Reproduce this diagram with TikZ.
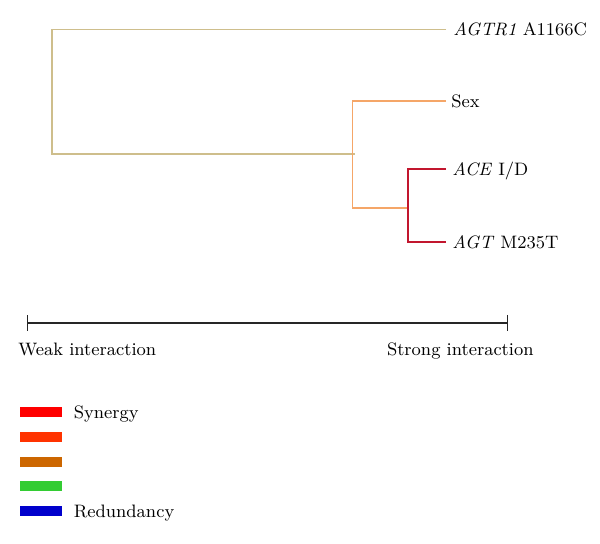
\documentclass[tikz,border=0pt]{standalone}
\usepackage{xcolor}
\usepackage{tikz}
\usetikzlibrary{positioning,arrows.meta}

\definecolor{tanline}{RGB}{206,190,140}
\definecolor{orangeline}{RGB}{245,166,104}
\definecolor{redline}{RGB}{194,22,46}
\definecolor{legsyn}{RGB}{255,0,0}
\definecolor{legorange}{RGB}{255,51,0}
\definecolor{legbrown}{RGB}{204,102,0}
\definecolor{leggreen}{RGB}{51,204,51}
\definecolor{legred}{RGB}{0,0,204}

\tikzset{
  branch/.style={line width=0.9pt},
  leaflabel/.style={anchor=west, inner sep=0pt, text height=6.2pt, text depth=0pt,
    font=\fontsize{9}{11}\selectfont},
  legendbar/.style={rectangle, minimum width=21pt, minimum height=5pt, inner sep=0pt}
}

\begin{document}
\begin{tikzpicture}[x=0.5pt,y=-0.5pt]
  \useasboundingbox (0,0) rectangle (600,544);

  % leaves and joins of the tree
  \coordinate (agtr1) at (446,29.5);
  \coordinate (sex) at (446,101);
  \coordinate (ace) at (446,169);
  \coordinate (agt) at (446,242);
  \coordinate (c3) at (408,208);
  \coordinate (c2) at (352.5,154);
  \coordinate (c1) at (52,154);

  \draw[branch, tanline] (agtr1) -| (c1) -- ([xshift=1.2pt]c2);
  \draw[branch, orangeline] (sex) -| (c2) |- (c3);
  \draw[branch, redline] (ace) -| (c3) |- (agt);

  \node[leaflabel, right=3.5pt of agtr1] (agtr1lbl) {\textit{AGTR1} A1166C};
  \node[leaflabel, right=2.5pt of sex] (sexlbl) {Sex};
  \node[leaflabel, right=3pt of ace] (acelbl) {\textit{ACE} I/D};
  \node[leaflabel, right=3pt of agt] (agtlbl) {\textit{AGT} M235T};

  % interaction scale
  \coordinate (weak) at (27,323);
  \coordinate (strong) at (508,323);
  \draw[line width=0.65pt, black!85, {Bar[width=8pt]}-{Bar[width=8pt]}] (weak) -- (strong);
  \node[leaflabel] (weaklbl) at ([xshift=-4.5pt,yshift=-13pt]weak) {Weak interaction};
  \node[leaflabel, anchor=east] (stronglbl) at ([xshift=13pt,yshift=-13pt]strong) {Strong interaction};

  % legend
  \foreach \c [count=\i] in {legsyn,legorange,legbrown,leggreen,legred}
    \node[legendbar, fill=\c] (bar\i) at (41,{412+24.8*(\i-1)}) {};
  \node[leaflabel, right=5.5pt of bar1] (synlbl) {Synergy};
  \node[leaflabel, right=5.5pt of bar5] (redlbl) {Redundancy};
\end{tikzpicture}
\end{document}
